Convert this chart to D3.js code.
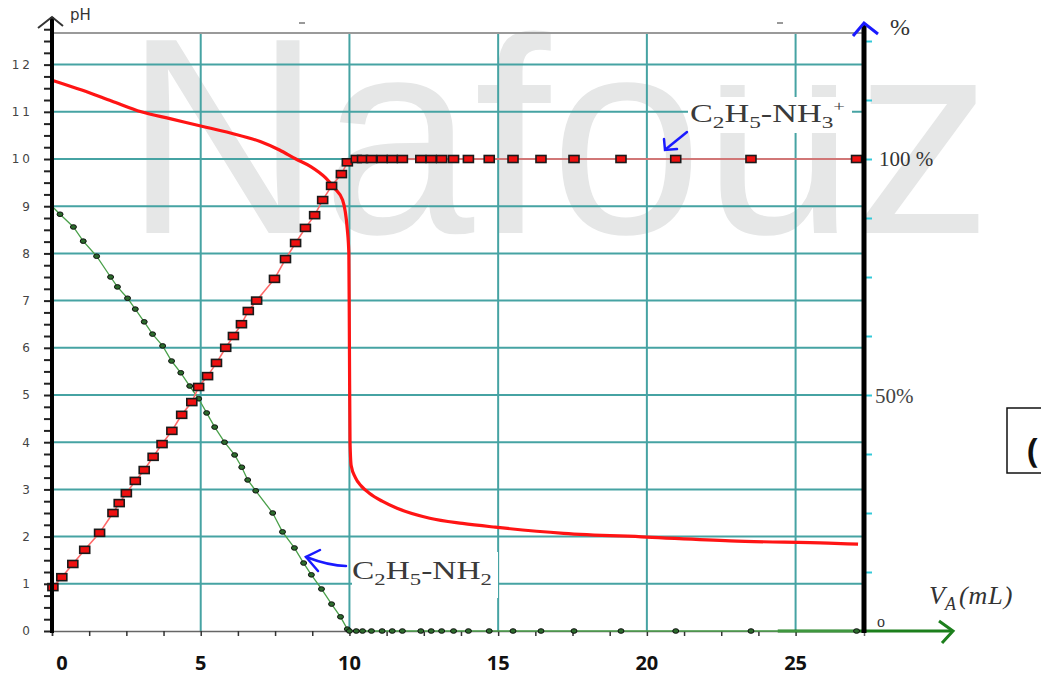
<!DOCTYPE html>
<html>
<head>
<meta charset="utf-8">
<script src="https://cdn.jsdelivr.net/npm/d3@7"></script>
<style>
  body { margin: 0; background: #fff; }
  svg { display: block; }
</style>
</head>
<body>
<div class="chart"></div>
<script>
// pH curve (volume of acid in mL, pH)
const phVol = [0, 1, 2, 3, 4, 5, 6, 7, 7.65, 8.2, 8.7, 9.2, 9.5, 9.77, 9.93, 9.98, 10.0, 10.02, 10.06, 10.2, 10.4, 10.67, 11.1, 11.6, 12.7, 13.8, 14.9, 17.2, 20.0, 22.8, 26.1, 27.1];
const phVal = [11.67, 11.46, 11.23, 11.0, 10.85, 10.7, 10.55, 10.37, 10.19, 10.0, 9.84, 9.6, 9.38, 9.13, 8.5, 8.0, 6.0, 4.0, 3.5, 3.25, 3.07, 2.92, 2.75, 2.6, 2.39, 2.28, 2.2, 2.07, 1.99, 1.91, 1.86, 1.84];

// % C2H5-NH3+ before equivalence
const ionVol = [0.03, 0.33, 0.7, 1.1, 1.6, 2.05, 2.26, 2.5, 2.8, 3.1, 3.4, 3.7, 4.03, 4.36, 4.7, 4.93, 5.23, 5.53, 5.84, 6.1, 6.37, 6.6, 6.88, 7.48, 7.85, 8.19, 8.52, 8.83, 9.1, 9.4, 9.73, 9.93];
const ionPct = [9.3, 11.4, 14.2, 17.2, 20.8, 25, 27.1, 29.2, 31.8, 34.1, 36.9, 39.6, 42.4, 45.8, 48.5, 51.7, 54, 56.8, 60, 62.5, 65, 67.8, 70, 74.6, 78.8, 82.2, 85.4, 88.1, 91.3, 94.3, 96.8, 99.3];

// % C2H5-NH2 before equivalence
const amineVol = [0, 0.27, 0.72, 1.05, 1.5, 1.97, 2.2, 2.54, 2.8, 3.1, 3.38, 3.72, 4.02, 4.33, 4.63, 4.93, 5.2, 5.47, 5.8, 6.14, 6.38, 6.58, 6.85, 7.42, 7.75, 8.15, 8.46, 8.72, 9.06, 9.4, 9.7, 9.93];
const aminePct = [90, 88.3, 85.6, 82.6, 79.4, 75, 72.9, 70.5, 68.2, 65.5, 62.9, 60.4, 57.2, 54.7, 51.9, 49.2, 46.2, 43.2, 40, 37.3, 34.7, 32, 29.7, 25, 21, 17.6, 14.4, 11.9, 8.9, 5.7, 3, 0.4];

// volumes after equivalence (100 % ion, 0 % amine)
const afterVol = [10.23, 10.44, 10.74, 11.1, 11.44, 11.78, 12.4, 12.75, 13.1, 13.5, 14.0, 14.7, 15.5, 16.44, 17.55, 19.13, 20.97, 23.5, 27.05];

const volTicks = [0, 5, 10, 15, 20, 25];
const phTicks = d3.range(0, 12.76, 0.25);
const pctTicks = d3.range(12.5, 126, 12.5);

const W = 1041, H = 677;
const svg = d3.select('.chart').append('svg').attr('width', W).attr('height', H);

const x = d3.scaleLinear().domain([0, 27.3]).range([52, 864]);
const yPH = d3.scaleLinear().domain([0, 12.67]).range([631, 33]);
const yPct = d3.scaleLinear().domain([0, 100]).range([631, 159]);

// watermark
svg.append('text')
  .attr('x', 124).attr('y', 233)
  .attr('font-family', 'Liberation Sans, Arial, sans-serif')
  .attr('font-size', 280)
  .attr('textLength', 868).attr('lengthAdjust', 'spacingAndGlyphs')
  .attr('fill', '#e6e7e7')
  .text('Nafouz');

// grid
const grid = svg.append('g').attr('stroke', '#46a3a3').attr('stroke-width', 2);
grid.selectAll('.v').data(volTicks.slice(1)).enter().append('line')
  .attr('x1', d => x(d)).attr('x2', d => x(d))
  .attr('y1', yPH(12.67)).attr('y2', yPH(0));
grid.selectAll('.h').data(d3.range(1, 13)).enter().append('line')
  .attr('x1', x(0)).attr('x2', x(27.3))
  .attr('y1', d => yPH(d)).attr('y2', d => yPH(d));
svg.append('line').attr('x1', x(0)).attr('x2', x(27.3))
  .attr('y1', yPH(12.67)).attr('y2', yPH(12.67))
  .attr('stroke', '#9a9a9a').attr('stroke-width', 2);

// label backgrounds
svg.append('rect').attr('x', 688).attr('y', 97).attr('width', 164).attr('height', 36).attr('fill', '#fff');
svg.append('rect').attr('x', 352).attr('y', 552).attr('width', 146).attr('height', 46).attr('fill', '#fff');

// bottom axis
const xAxis = d3.axisBottom(x).tickValues(d3.range(0, 25.1, 1.25)).tickSize(5).tickFormat('');
const gx = svg.append('g').attr('transform', `translate(0,${yPH(0)})`).call(xAxis);
gx.select('.domain').attr('stroke', '#666').attr('stroke-width', 1.5);
gx.selectAll('.tick line').attr('stroke', '#333').attr('stroke-width', 1.5);
svg.append('g').selectAll('text').data(volTicks).enter().append('text')
  .attr('x', d => x(d) + (d === 0 ? 10 : 0)).attr('y', 670)
  .attr('text-anchor', 'middle')
  .attr('font-family', 'Open Sans, Liberation Sans, sans-serif')
  .attr('font-weight', 'bold').attr('font-size', 20).attr('fill', '#111')
  .text(d => d);

// green arrow at end of volume axis
svg.append('line').attr('x1', x(24.4)).attr('x2', 952).attr('y1', yPH(0)).attr('y2', yPH(0))
  .attr('stroke', '#1c7f1c').attr('stroke-width', 3);
svg.append('path').attr('d', 'M939,621 L953,631 L942,643')
  .attr('fill', 'none').attr('stroke', '#1c7f1c').attr('stroke-width', 3);

// pH curve
svg.append('path')
  .datum(phVol.map((v, i) => [v, phVal[i]]))
  .attr('fill', 'none').attr('stroke', '#ff1414').attr('stroke-width', 3.2)
  .attr('stroke-linejoin', 'round')
  .attr('d', d3.line().curve(d3.curveMonotoneX).x(d => x(d[0])).y(d => yPH(d[1])));

// % amine
const amine = amineVol.map((v, i) => [v, aminePct[i]]).concat([[10, 0]], afterVol.map(v => [v, 0]));
svg.append('path').datum(amine)
  .attr('fill', 'none').attr('stroke', '#4aa04a').attr('stroke-width', 1.3)
  .attr('d', d3.line().x(d => x(d[0])).y(d => yPct(d[1])));
svg.append('g').selectAll('ellipse').data(amine.slice(1)).enter().append('ellipse')
  .attr('cx', d => x(d[0])).attr('cy', d => yPct(d[1]))
  .attr('rx', 3).attr('ry', 2.3)
  .attr('fill', '#2c6b2c').attr('stroke', '#111').attr('stroke-width', 1);

// % ion
const ion = ionVol.map((v, i) => [v, ionPct[i]]).concat(afterVol.map(v => [v, 100]));
svg.append('path').datum([[0, 8.6]].concat(ion, [[27.3, 100]]))
  .attr('fill', 'none').attr('stroke', '#ff6a6a').attr('stroke-width', 1.6)
  .attr('d', d3.line().x(d => x(d[0])).y(d => yPct(d[1])));
svg.append('g').selectAll('rect').data(ion).enter().append('rect')
  .attr('x', d => x(d[0]) - 5).attr('y', d => yPct(d[1]) - 3.5)
  .attr('width', 10).attr('height', 7)
  .attr('fill', '#ee1010').attr('stroke', '#1a1a1a').attr('stroke-width', 1.6);

// left pH axis
const yAxis = d3.axisLeft(yPH).tickValues(phTicks).tickSize(8).tickPadding(11)
  .tickFormat(d => Number.isInteger(d) ? d : '');
const gy = svg.append('g').attr('transform', `translate(${x(0)},0)`).call(yAxis);
gy.select('.domain').remove();
gy.selectAll('.tick line').attr('stroke', '#222').attr('stroke-width', 2);
gy.selectAll('.tick text').attr('font-family', 'DejaVu Sans, sans-serif')
  .attr('font-size', 12).attr('fill', '#444').attr('letter-spacing', 3);
svg.append('line').attr('x1', x(0)).attr('x2', x(0)).attr('y1', yPH(0) + 2).attr('y2', 17)
  .attr('stroke', '#000').attr('stroke-width', 4);
svg.append('path').attr('d', 'M38,28 L52,17 L63,26').attr('fill', 'none')
  .attr('stroke', '#333').attr('stroke-width', 2);
svg.append('text').attr('x', 70).attr('y', 20).attr('font-family', 'DejaVu Sans, sans-serif')
  .attr('font-size', 15).attr('fill', '#333').text('pH');
svg.selectAll('.dash').data([302, 780]).enter().append('line')
  .attr('x1', d => d - 3).attr('x2', d => d + 3).attr('y1', 23).attr('y2', 23)
  .attr('stroke', '#777').attr('stroke-width', 1.5);

// right % axis
const yAxisR = d3.axisRight(yPct).tickValues(pctTicks).tickSize(6).tickFormat('');
const gr = svg.append('g').attr('transform', `translate(${x(27.3) + 2},0)`).call(yAxisR);
gr.select('.domain').remove();
gr.selectAll('.tick line').attr('stroke', '#33c8d8').attr('stroke-width', 2);
svg.append('line').attr('x1', x(27.3)).attr('x2', x(27.3)).attr('y1', yPH(0) + 2).attr('y2', 24)
  .attr('stroke', '#000').attr('stroke-width', 5);
svg.append('path').attr('d', 'M853,36 L864,23 L878,34').attr('fill', 'none')
  .attr('stroke', '#1a1aff').attr('stroke-width', 3);
const serif = 'Liberation Serif, Times New Roman, serif';
svg.append('text').attr('x', 890).attr('y', 35).attr('font-family', serif)
  .attr('font-size', 24).attr('fill', '#333').text('%');
svg.append('text').attr('x', 879).attr('y', yPct(100) + 7).attr('font-family', serif)
  .attr('font-size', 21).attr('fill', '#333').text('100 %');
svg.append('text').attr('x', 875).attr('y', yPct(50) + 8).attr('font-family', serif)
  .attr('font-size', 21).attr('fill', '#444').text('50%');
svg.append('text').attr('x', 877).attr('y', yPct(0) - 4).attr('font-family', serif)
  .attr('font-size', 16).attr('fill', '#333').text('o');

// V_A (mL)
const va = svg.append('text').attr('x', 929).attr('y', 604).attr('font-family', serif)
  .attr('font-style', 'italic').attr('font-size', 26).attr('fill', '#333');
va.append('tspan').text('V');
va.append('tspan').attr('dy', 6).attr('font-size', 18).text('A');
va.append('tspan').attr('dy', -6).attr('dx', 3).attr('letter-spacing', 1).text('(mL)');

// species labels
function formula(x0, y0, parts, width) {
  const t = svg.append('text').attr('x', x0).attr('y', y0).attr('font-family', serif)
    .attr('font-size', 25).attr('fill', '#3a3a3a');
  let shift = 0;
  parts.forEach(([s, kind]) => {
    const target = kind === 'sub' ? 6 : kind === 'sup' ? -11 : 0;
    const ts = t.append('tspan').attr('dy', target - shift).text(s);
    if (kind) ts.attr('font-size', kind === 'sup' ? 15 : 17);
    shift = target;
  });
  const w = t.node().getBBox().width;
  t.attr('transform', `translate(${x0},0) scale(${width / w},1) translate(${-x0},0)`);
}
formula(690, 122, [['C'], ['2', 'sub'], ['H'], ['5', 'sub'], ['-NH'], ['3', 'sub'], ['+', 'sup']], 155);
formula(352, 579, [['C'], ['2', 'sub'], ['H'], ['5', 'sub'], ['-NH'], ['2', 'sub']], 140);

// blue arrows
const blue = svg.append('g').attr('fill', 'none').attr('stroke', '#1a1aff')
  .attr('stroke-width', 2.5).attr('stroke-linecap', 'round');
blue.append('path').attr('d', 'M687,132 L666,149');
blue.append('path').attr('d', 'M664,139 L665,150 L677,149');
blue.append('path').attr('d', 'M346,566 Q330,566 306,557');
blue.append('path').attr('d', 'M320,550 L306,557 L318,571');

// box at right edge
svg.append('rect').attr('x', 1007).attr('y', 408).attr('width', 60).attr('height', 65)
  .attr('fill', '#fff').attr('stroke', '#111').attr('stroke-width', 1.5);
svg.append('text').attr('x', 1027).attr('y', 462).attr('font-family', 'Open Sans, Liberation Sans, sans-serif')
  .attr('font-weight', 'bold').attr('font-size', 34).attr('fill', '#111').text('(');
</script>
</body>
</html>
